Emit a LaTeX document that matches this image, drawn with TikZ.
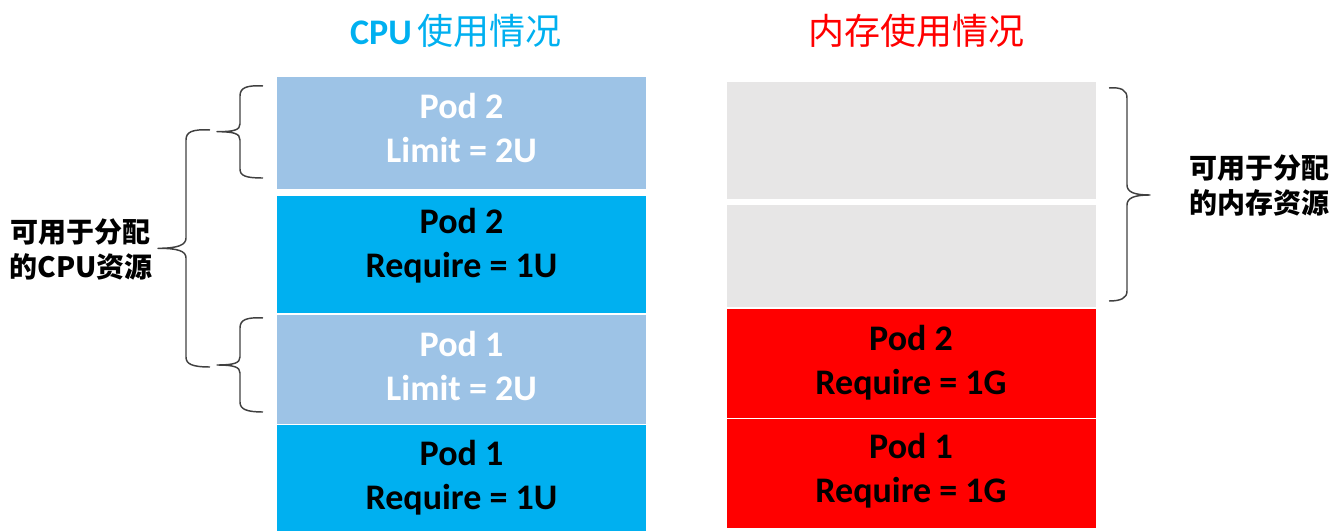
\documentclass[tikz,border=0pt]{standalone}
\usepackage{fontspec}
\setmainfont{Carlito}
\newfontfamily\cjk{Noto Sans CJK SC}
\definecolor{lblue}{HTML}{9DC3E6}
\definecolor{cblue}{HTML}{00B0F0}
\definecolor{lgray}{HTML}{E7E6E6}
\definecolor{pred}{HTML}{FF0000}
\definecolor{brc}{HTML}{404040}
\tikzset{
  box/.style={rectangle, draw=none, inner sep=0pt, outer sep=0pt},
  cpucol/.style={box, minimum width=276.5pt},
  memcol/.style={box, minimum width=277pt},
  podtext/.style={inner sep=0pt, align=center, font=\fontsize{27}{33}\selectfont\bfseries},
  title/.style={inner sep=0pt, font=\fontsize{27}{32}\selectfont},
  side/.style={inner sep=0pt, align=center, font=\cjk\bfseries\fontsize{21}{26.25}\selectfont},
  bracestroke/.style={draw=brc, line width=1.1pt, line join=round}
}
\begin{document}
\begin{tikzpicture}[x=0.75pt, y=-0.75pt]
\useasboundingbox (0,0) rectangle (1332,531);
% titles
\node[title, text=cblue] (t1) at (456,31) {\bfseries CPU\,{\cjk\mdseries 使用情况}};
\node[title, text=pred] (t2) at (916,31) {\cjk 内存使用情况};
% CPU column
\node[cpucol, fill=lblue, minimum height=83.8pt] (c1) at (461.7,133.2) {};
\node[cpucol, fill=cblue, minimum height=88.2pt] (c2) at (461.7,254.5) {};
\node[cpucol, fill=lblue, minimum height=82pt] (c3) at (461.7,369.4) {};
\node[cpucol, fill=cblue, minimum height=79.3pt] (c4) at (461.7,478.2) {};
\node[podtext, text=white] (c1t) at (461.5,132) {\strut Pod 2\\\strut Limit = 2U};
\node[podtext, text=black] (c2t) at (461.5,247) {\strut Pod 2\\\strut Require = 1U};
\node[podtext, text=white] (c3t) at (461.5,370) {\strut Pod 1\\\strut Limit = 2U};
\node[podtext, text=black] (c4t) at (461.5,479) {\strut Pod 1\\\strut Require = 1U};
% memory column
\node[memcol, fill=lgray, minimum height=87.5pt] (m1) at (911.4,140.4) {};
\node[memcol, fill=lgray, minimum height=77pt] (m2) at (911.4,256) {};
\node[memcol, fill=pred, minimum height=81.5pt] (m3) at (911.4,363.4) {};
\node[memcol, fill=pred, minimum height=81.5pt] (m4) at (911.4,473.4) {};
\node[podtext, text=black] (m3t) at (911,363.5) {\strut Pod 2\\\strut Require = 1G};
\node[podtext, text=black] (m4t) at (911,472) {\strut Pod 1\\\strut Require = 1G};
% side labels
\node[side] (sl) at (81,249.5) {可用于分配\\的CPU资源};
\node[side] (sr) at (1259,185.5) {可用于分配\\的内存资源};
% braces
\draw[bracestroke] (263,86) .. controls (246,85) and (240,88) .. (240,96) -- (240,124)
  .. controls (240,130) and (234,131.7) .. (217,131.7)
  .. controls (234,131.7) and (240,133.5) .. (240,140) -- (240,169)
  .. controls (240,176) and (246,178) .. (263,178);
\draw[bracestroke] (263,318) .. controls (246,317) and (240,320) .. (240,328) -- (240,357)
  .. controls (240,363) and (234,365) .. (217,365)
  .. controls (234,365) and (240,367) .. (240,373) -- (240,402)
  .. controls (240,409) and (246,412) .. (263,412);
\draw[bracestroke] (210,130) .. controls (192,129) and (186,132) .. (186,140) -- (186,238)
  .. controls (186,245) and (178,248.3) .. (158,248.3)
  .. controls (178,248.3) and (186,251) .. (186,258) -- (186,357)
  .. controls (186,364) and (192,367) .. (210,367);
\draw[bracestroke] (1109,88) .. controls (1121,87) and (1127,90) .. (1127,98) -- (1127,185)
  .. controls (1127,192) and (1134,195) .. (1150,195)
  .. controls (1134,195) and (1127,198) .. (1127,205) -- (1127,291)
  .. controls (1127,298) and (1121,301) .. (1109,301);
\end{tikzpicture}
\end{document}
